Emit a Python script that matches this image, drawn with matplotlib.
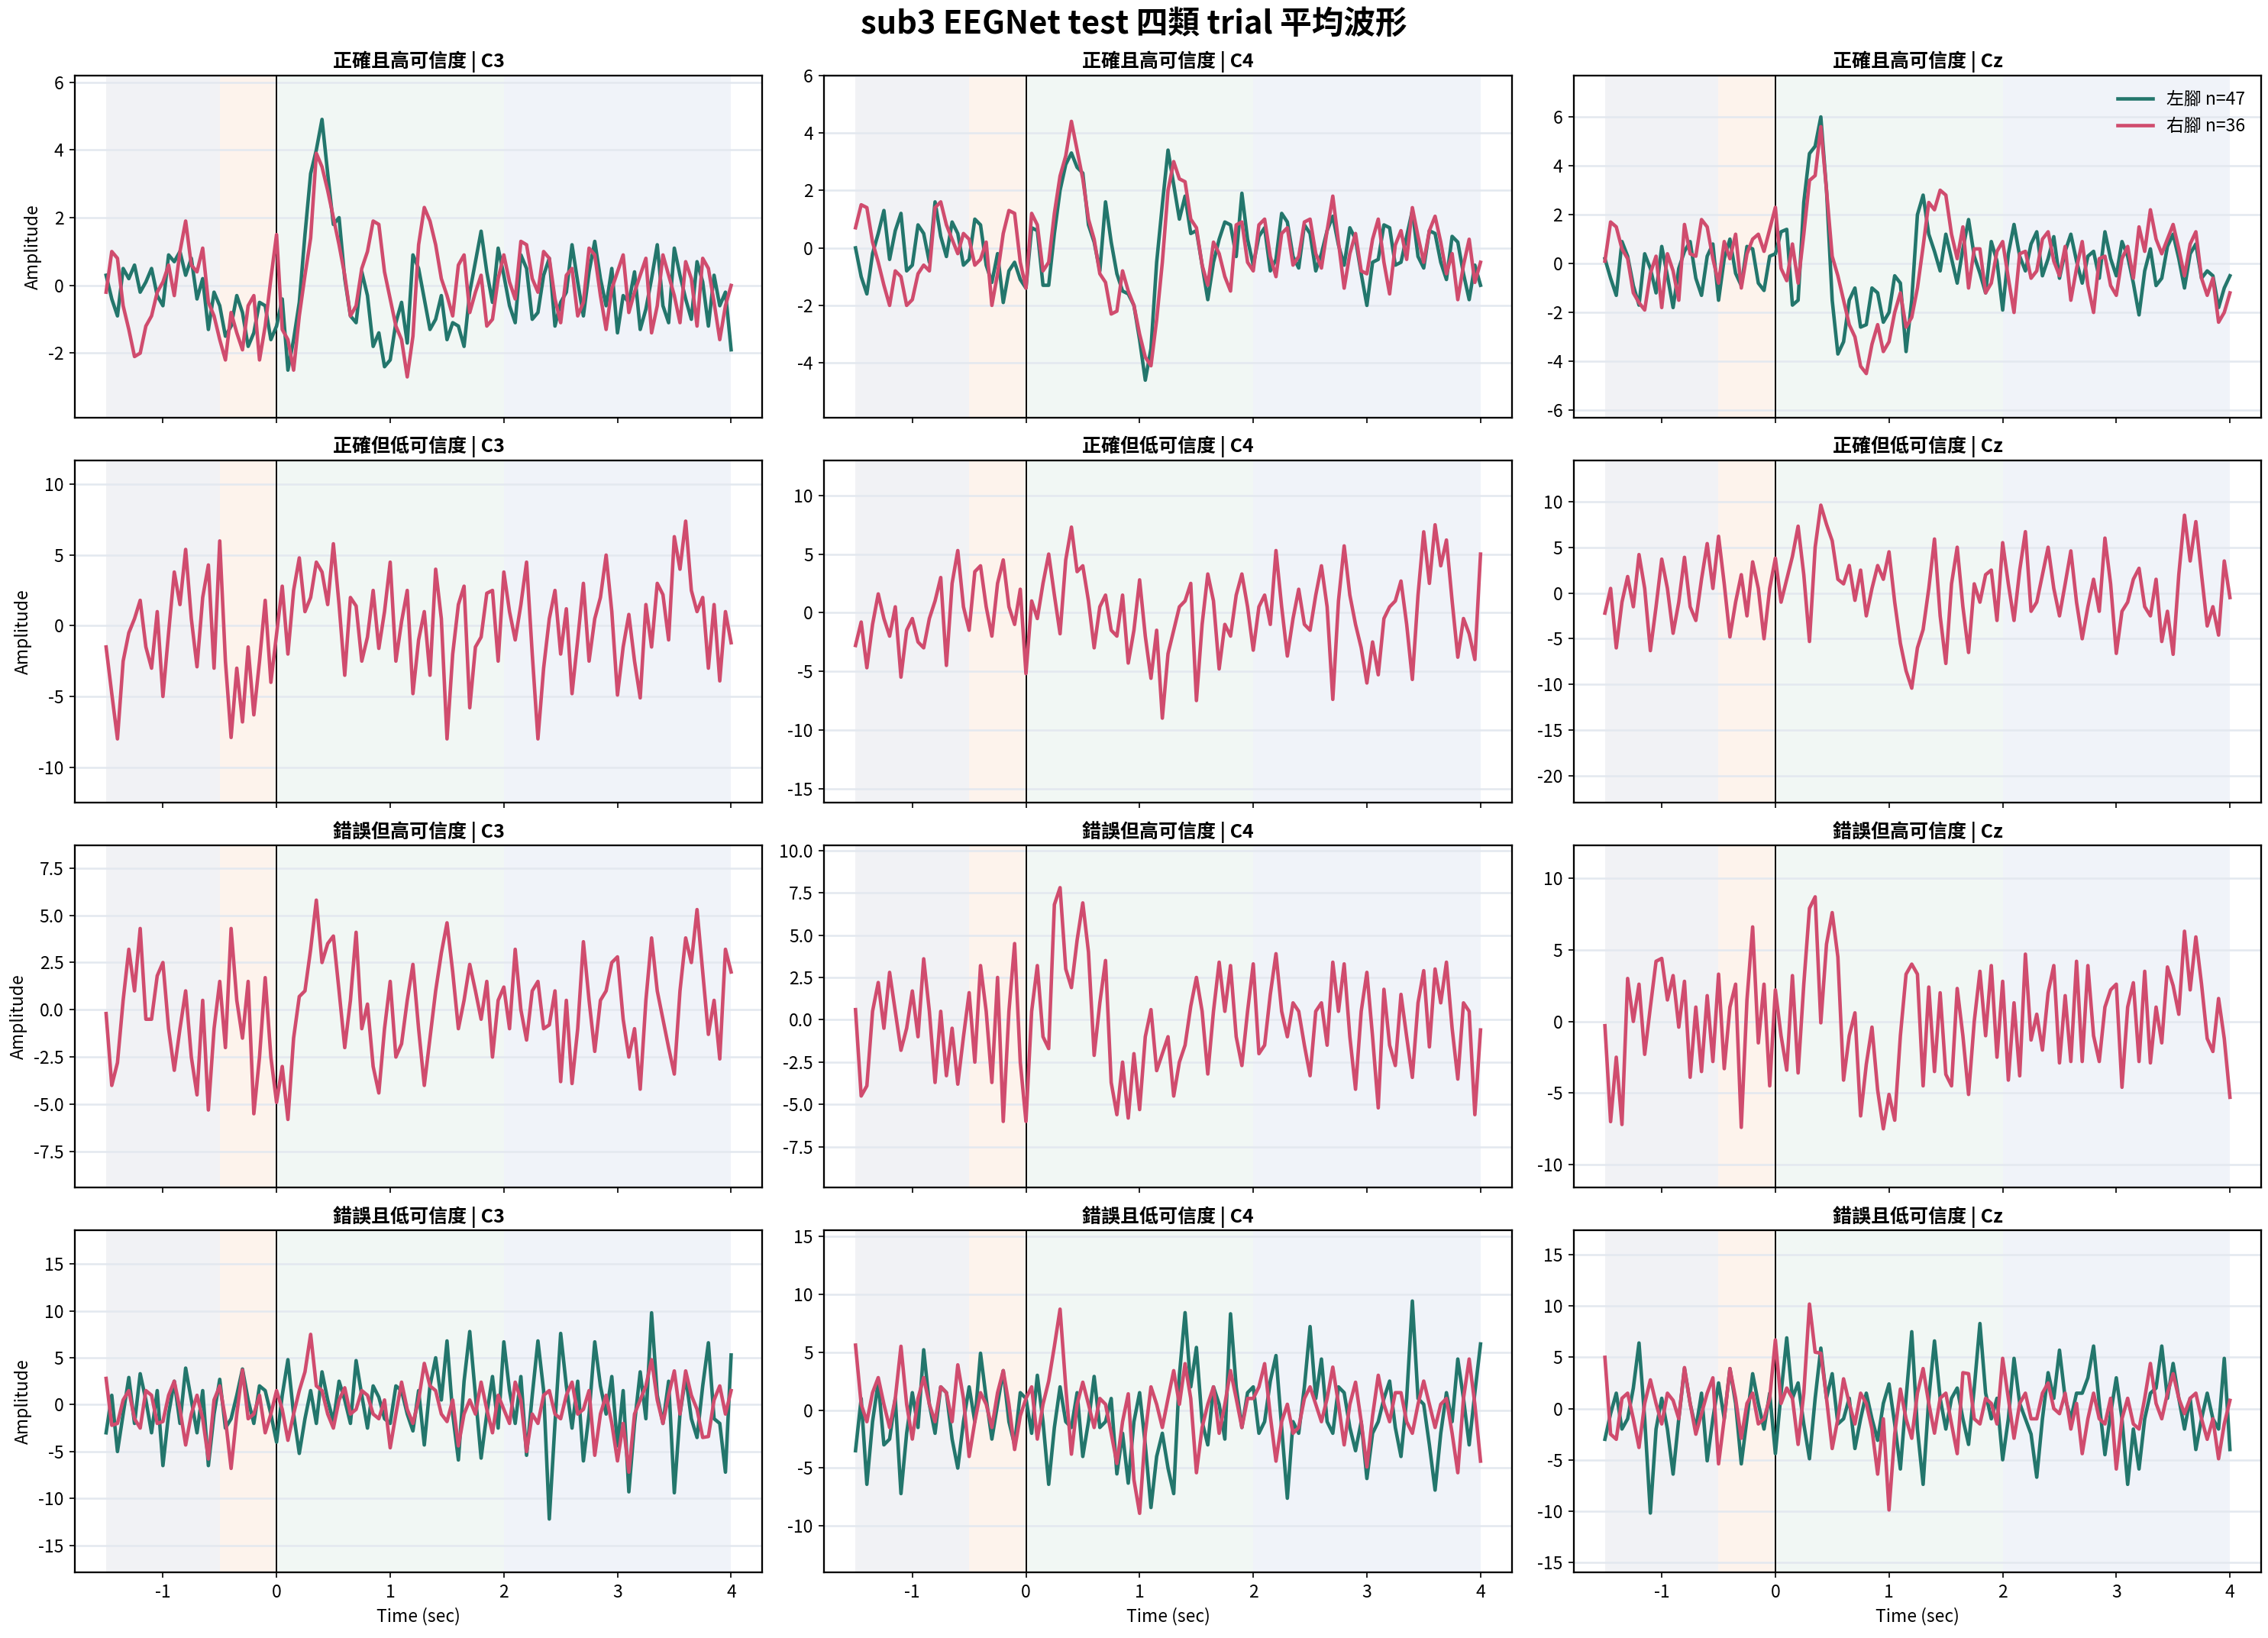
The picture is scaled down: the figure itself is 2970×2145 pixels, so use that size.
import numpy as np
import matplotlib
matplotlib.use("Agg")
import matplotlib.pyplot as plt

plt.rcParams['font.family'] = ['Noto Sans CJK TC', 'DejaVu Sans']
plt.rcParams['axes.unicode_minus'] = False

# every trace is sampled every 0.05 s from -1.5 to 4.0 s
t_start, t_end = -1.5, 4.0

row_titles = ["正確且高可信度", "正確但低可信度", "錯誤但高可信度", "錯誤且低可信度"]
channels = ["C3", "C4", "Cz"]
n_left, n_right = 47, 36

# ---- 正確且高可信度 ----
hc_c3_left = [0.3, -0.4, -0.9, 0.5, 0.2, 0.6, -0.2, 0.1, 0.5, -0.3,
              -0.6, 0.9, 0.7, 1.0, 0.3, 0.8, -0.4, 0.2, -1.3, -0.2,
              -0.6, -1.5, -1.2, -0.3, -0.8, -1.8, -1.4, -0.5, -0.6, -1.6,
              -1.2, -0.4, -2.5, -1.6, -0.5, 1.5, 3.3, 4.0, 4.9, 3.3,
              1.8, 2.0, 0.2, -0.9, -1.1, 0.4, -0.3, -1.8, -1.4, -2.4,
              -2.2, -1.1, -0.5, -1.7, 0.9, 0.5, -0.4, -1.3, -1.0, -0.3,
              -1.6, -1.1, -1.2, -1.8, -0.2, 0.7, 1.6, 0.4, -0.5, 1.1,
              0.3, -0.6, -1.1, 0.9, 0.5, -1.0, -0.8, 0.3, 0.8, -1.2,
              -0.5, -0.2, 1.2, 0.1, -0.9, 0.4, 1.3, 0.2, -0.6, 0.5,
              -1.4, -0.3, -0.5, 0.4, -1.3, -0.7, 0.2, 1.2, -0.6, -1.1,
              1.1, 0.3, -0.4, -1.0, 0.7, 0.1, -1.2, 0.3, -0.6, -0.2,
              -1.9]
hc_c3_right = [-0.2, 1.0, 0.8, -0.6, -1.3, -2.1, -2.0, -1.2, -0.9, -0.2,
               0.1, 0.6, -0.3, 1.0, 1.9, 0.6, 0.4, 1.1, -0.5, -0.9,
               -1.6, -2.2, -0.8, -1.4, -1.9, -0.6, -0.3, -2.2, -1.2, 0.2,
               1.5, -1.3, -1.6, -2.5, -0.9, 0.3, 1.4, 3.9, 3.5, 2.8,
               2.0, 1.2, 0.3, -0.9, -0.6, 0.5, 1.0, 1.9, 1.8, 0.4,
               -0.4, -1.2, -1.6, -2.7, -1.5, 1.2, 2.3, 1.9, 1.2, 0.2,
               -0.3, -0.9, 0.6, 0.9, -0.8, -0.2, 0.3, -1.2, -1.0, 0.2,
               0.9, 0.1, -0.4, 1.3, 1.2, 0.2, -0.2, 1.0, 0.8, -0.4,
               -1.1, 0.3, 0.5, -0.9, -0.5, 1.1, 0.9, -0.3, -1.3, -0.1,
               0.4, 0.9, -0.8, -0.2, 0.3, 0.8, -1.4, -0.6, 0.9, 0.3,
               -0.3, -1.1, 0.7, 0.2, -1.2, 0.8, 0.5, -0.5, -1.6, -0.6,
               0.0]
hc_c4_left = [0.0, -1.0, -1.6, -0.2, 0.5, 1.3, -0.4, 0.6, 1.2, -0.8,
              -0.6, 0.8, 0.5, -0.5, 1.6, 0.4, -0.3, 0.9, 0.5, -0.6,
              -0.4, 1.0, 0.8, -0.6, -1.2, -0.2, -1.9, -0.8, -0.5, -1.1,
              -1.4, 0.7, 0.6, -1.3, -1.3, 0.5, 2.0, 2.9, 3.3, 2.8,
              2.6, 0.8, 0.2, -0.8, 1.6, 0.2, -0.9, -1.5, -1.6, -2.0,
              -3.2, -4.6, -3.5, -0.5, 1.5, 3.4, 2.2, 1.0, 1.8, 0.5,
              0.6, -0.6, -1.8, -0.5, 0.3, 0.9, 0.8, -0.3, 1.9, 0.3,
              -0.6, 0.4, 0.7, -0.8, -0.4, 1.2, 0.9, -0.3, -0.7, 0.8,
              0.5, -0.8, -0.2, 0.6, 1.1, 0.1, -0.6, 0.7, 0.3, -0.9,
              -2.0, -0.5, -0.4, 0.8, 0.7, -0.6, -0.5, 0.4, 1.3, -0.3,
              -0.7, 0.6, 0.5, -0.5, -1.1, 0.4, 0.2, -0.9, -1.8, -0.6,
              -1.3]
hc_c4_right = [0.7, 1.5, 1.4, 0.2, -0.5, -1.3, -2.0, -0.8, -1.0, -2.0,
               -1.8, -0.9, -0.6, -0.8, 1.4, 1.6, 0.8, 0.3, -0.2, 0.5,
               0.3, -0.6, -0.4, 0.2, -2.0, -0.9, 0.5, 1.3, 1.2, -0.5,
               -1.4, 1.2, 0.8, -0.8, -0.5, 1.2, 2.5, 3.2, 4.4, 3.4,
               2.4, 1.0, 0.3, -0.9, -1.2, -2.3, -2.2, -0.8, -1.5, -2.0,
               -3.0, -3.8, -4.1, -2.5, -0.5, 2.0, 3.0, 2.4, 2.3, 1.0,
               0.7, -0.6, -1.3, 0.2, -0.2, -1.0, -1.5, 0.8, 0.9, -0.5,
               -0.8, 0.8, 1.0, -0.3, -1.0, 0.5, 0.7, -0.6, -0.3, 0.9,
               1.0, -0.2, -0.7, 0.6, 1.8, 0.2, -1.4, -0.2, 0.5, -0.8,
               -0.9, 0.3, 1.0, -0.5, -1.6, 0.1, 0.6, -0.4, 1.4, 0.4,
               -0.5, 0.6, 1.1, 0.2, -0.9, -0.2, -1.8, -0.6, 0.3, -1.2,
               -0.5]
hc_cz_left = [0.2, -0.6, -1.3, 0.9, 0.3, -0.9, -1.7, 0.4, -0.2, -1.2,
              0.7, -0.5, -1.8, -0.2, 0.5, 0.9, -0.6, -1.3, 0.3, 0.8,
              -1.5, 0.2, 1.0, -0.4, -0.9, 0.7, 0.6, -0.8, -1.1, 0.3,
              0.4, 1.3, 1.4, -1.7, -1.5, 2.5, 4.5, 4.8, 6.0, 3.0,
              -1.5, -3.7, -3.2, -1.5, -1.0, -2.6, -2.5, -1.0, -1.2, -2.4,
              -2.0, -0.5, -0.8, -3.6, -1.5, 2.0, 2.8, 1.2, 0.5, -0.3,
              1.2, 0.2, -0.8, 0.6, 1.8, 0.3, -0.4, -1.2, 0.9, 0.1,
              -1.9, 0.4, 1.6, 0.3, -0.3, 0.8, 1.3, -0.5, 0.2, 1.1,
              -0.6, 0.5, 1.2, 0.1, -0.8, 0.3, 0.5, -0.6, 1.3, 0.2,
              -0.5, 0.9, 0.3, -0.8, -2.1, -0.3, 0.6, -0.9, -0.6, 0.7,
              1.2, 0.2, -1.0, 0.4, 0.8, -0.6, -0.3, -0.5, -1.8, -1.0,
              -0.5]
hc_cz_right = [0.1, 1.7, 1.5, 0.6, 0.2, -1.2, -1.6, -1.9, -0.4, 0.3,
               -1.8, 0.4, -0.3, -1.5, 1.6, 0.4, 0.3, 1.8, 1.5, 0.2,
               -0.8, 0.9, 0.2, 1.2, -1.0, 0.4, 1.0, 1.2, 0.5, 1.4,
               2.3, -0.2, -0.7, 0.8, -0.8, 1.2, 3.4, 3.6, 5.6, 3.0,
               0.3, -0.5, -1.5, -2.5, -3.0, -4.2, -4.5, -3.3, -2.5, -3.6,
               -3.2, -2.0, -1.2, -2.6, -2.2, -1.0, 0.7, 2.5, 2.2, 3.0,
               2.8, 1.2, 0.2, 1.5, -1.0, 0.6, 0.6, -1.2, -0.8, 0.5,
               0.9, -0.6, -2.0, 0.4, 0.5, -0.6, -0.3, 1.0, 1.3, 0.1,
               -0.5, 0.7, -1.5, -0.2, 0.9, -0.9, -2.0, 0.2, 0.3, -0.9,
               -1.3, 0.2, 0.7, -0.6, 1.5, 0.5, 2.2, 1.0, 0.4, 1.0,
               1.6, 0.6, -0.5, 0.8, 1.3, -0.6, -1.3, -0.6, -2.4, -2.0,
               -1.2]

# ---- 正確但低可信度 (only 右腳 trace) ----
hl_c3_right = [-1.5, -4.8, -8.0, -2.5, -0.5, 0.5, 1.8, -1.5, -3.0, 1.0,
               -5.0, -0.5, 3.8, 1.5, 5.4, 0.5, -2.9, 2.0, 4.3, -3.0,
               6.0, -2.5, -7.9, -3.0, -6.8, -1.5, -6.3, -2.5, 1.8, -4.0,
               -0.6, 2.8, -2.0, 2.5, 4.8, 1.0, 2.0, 4.5, 3.8, 1.5,
               5.8, 1.5, -3.5, 2.0, 1.4, -2.5, -0.8, 2.5, -1.6, 1.0,
               4.5, -2.5, 0.3, 2.5, -4.8, -1.0, 1.0, -3.5, 4.0, 0.5,
               -8.0, -2.0, 1.5, 2.8, -5.8, -1.5, -0.8, 2.3, 2.5, -2.5,
               3.8, 1.0, -1.0, 1.5, 4.5, -2.0, -8.0, -3.0, 0.5, 2.5,
               -2.0, 1.2, -4.8, -1.0, 3.0, -2.5, 0.5, 2.0, 5.0, 1.0,
               -4.9, -1.5, 0.8, -2.5, -5.1, 1.5, -1.5, 3.0, 2.2, -1.0,
               6.3, 4.0, 7.4, 2.5, 1.0, 2.0, -3.0, 1.5, -3.9, 1.0,
               -1.2]
hl_c4_right = [-2.8, -0.8, -4.7, -1.0, 1.6, -0.5, -2.0, 0.5, -5.5, -1.5,
               -0.5, -2.5, -3.0, -0.5, 1.0, 3.0, -4.5, 2.5, 5.3, 0.5,
               -1.5, 3.5, 4.0, 0.5, -2.0, 2.5, 4.5, 0.5, -1.0, 2.0,
               -5.2, 1.0, -0.5, 2.5, 5.0, 1.5, -1.8, 4.5, 7.3, 3.5,
               4.0, 1.0, -3.0, 0.5, 1.5, -1.5, -2.0, 1.5, -4.3, -1.5,
               2.8, -2.0, -5.6, -1.5, -9.0, -3.5, -1.5, 0.5, 1.0, 2.5,
               -7.5, -1.0, 3.3, 1.0, -4.8, -1.0, -2.0, 1.5, 3.3, 0.5,
               -3.2, 0.5, 1.5, -1.0, 5.3, 0.5, -3.7, -0.5, 2.0, -1.0,
               -1.5, 1.5, 4.0, 0.5, -7.4, 1.0, 5.7, 1.5, -1.0, -3.0,
               -6.0, -2.5, -5.3, -0.5, 0.5, 1.0, 2.7, -1.0, -5.7, 1.5,
               6.9, 2.5, 7.5, 4.0, 6.2, 1.0, -3.8, -0.5, -1.8, -4.0,
               5.0]
hl_cz_right = [-2.2, 0.5, -6.0, -1.0, 1.8, -1.5, 4.2, 0.5, -6.3, -1.5,
               3.7, 0.5, -4.4, -1.0, 3.9, -1.5, -3.0, 1.5, 5.4, 0.5,
               6.2, 1.0, -4.8, -1.0, 2.0, -2.5, 3.4, 0.5, -5.0, 0.5,
               3.8, -1.0, 1.5, 4.0, 7.3, 2.0, -5.3, 5.0, 9.6, 7.5,
               5.7, 1.5, 1.0, 3.0, -0.8, 2.5, -2.5, 0.5, 3.0, 1.5,
               4.5, -1.0, -5.5, -8.5, -10.4, -6.0, -4.0, 0.5, 5.9, -2.5,
               -7.7, 1.0, 5.0, -1.5, -6.5, 1.0, -1.0, 2.0, 2.5, -3.0,
               5.5, 1.0, -3.0, 2.5, 6.7, -2.0, -1.0, 2.0, 5.0, 0.5,
               -2.5, 1.0, 4.6, -1.0, -5.0, -1.5, 1.5, -2.0, 6.0, 1.0,
               -6.6, -2.0, -1.0, 1.5, 2.7, -1.5, -2.5, 1.5, -5.3, -2.0,
               -6.7, 2.0, 8.5, 3.5, 7.8, 2.0, -3.6, -1.5, -4.6, 3.5,
               -0.5]

# ---- 錯誤但高可信度 (only 右腳 trace) ----
wh_c3_right = [-0.2, -4.0, -2.8, 0.5, 3.2, 1.0, 4.3, -0.5, -0.5, 1.8,
               2.5, -1.0, -3.2, -1.0, 1.0, -2.5, -4.5, 0.5, -5.3, -1.0,
               1.5, -2.0, 4.3, 0.5, -1.5, 1.5, -5.5, -2.5, 1.7, -2.5,
               -4.9, -3.0, -5.8, -1.5, 0.7, 1.0, 3.2, 5.8, 2.5, 3.5,
               3.9, 1.0, -2.0, 0.5, 4.1, -1.0, 0.3, -3.0, -4.4, -1.0,
               1.5, -2.5, -1.8, 0.5, 2.4, -1.0, -4.0, -1.5, 1.0, 3.0,
               4.6, 2.0, -1.0, 0.5, 2.4, 1.0, -0.5, 1.5, -2.5, 0.5,
               1.2, -1.0, 3.2, 0.0, -1.6, 1.0, 1.5, -1.0, -0.8, 1.0,
               -3.8, 0.5, -3.9, -1.0, 3.6, 0.5, -2.2, 0.5, 1.0, 2.5,
               2.8, -0.5, -2.5, -1.0, -4.2, 0.5, 3.8, 1.0, -0.5, -2.0,
               -3.4, 1.0, 3.8, 2.5, 5.3, 2.0, -1.3, 0.5, -2.6, 3.2,
               2.0]
wh_c4_right = [0.6, -4.5, -3.9, 0.5, 2.2, -0.5, 2.8, 0.5, -1.8, -0.5,
               1.7, -1.0, 3.6, 0.5, -3.7, 0.5, -3.3, -0.5, -3.8, -1.0,
               1.6, -2.5, 3.2, 0.5, -3.7, 2.5, -6.0, 0.5, 4.5, -2.5,
               -6.0, 0.5, 3.2, -1.0, -1.7, 6.8, 7.8, 3.0, 1.9, 4.7,
               6.9, 4.0, -2.1, 1.0, 3.5, -3.7, -5.6, -2.5, -5.8, -2.0,
               -5.3, -1.0, 0.6, -3.0, -2.0, -1.0, -4.5, -2.5, -1.5, 0.8,
               2.5, 0.5, -3.2, 0.5, 3.4, 0.5, 3.2, -1.0, -2.7, 0.5,
               3.3, -2.0, -1.5, 1.5, 3.9, 0.5, -1.0, 1.0, 0.5, -1.5,
               -3.3, 0.5, 1.0, -1.5, 3.4, 0.5, 3.3, -1.0, -4.1, 0.5,
               2.8, -1.0, -5.2, 1.8, -1.5, -2.7, 1.5, -1.0, -3.4, 1.0,
               2.9, -1.6, 3.0, 1.0, 3.4, -0.5, -3.5, 1.0, 0.5, -5.6,
               -0.6]
wh_cz_right = [-0.3, -7.0, -2.5, -7.2, 3.0, 0.0, 2.6, -2.3, 1.0, 4.2,
               4.4, 1.5, 3.2, -0.4, 2.8, -3.9, 1.0, -3.5, 1.8, -2.8,
               3.3, -3.3, 1.0, 2.6, -7.4, 1.5, 6.6, -1.5, 2.6, -4.5,
               2.2, -1.0, -3.4, 3.2, -3.6, 2.6, 7.9, 8.7, -0.1, 5.4,
               7.6, 4.5, -4.1, -1.0, 0.6, -6.6, -3.0, -0.4, -4.8, -7.5,
               -5.1, -6.9, -1.0, 3.3, 4.0, 3.3, -4.5, 2.4, -3.5, 2.0,
               -3.7, -4.5, 2.3, -1.0, -5.1, 0.0, 3.5, -1.0, 3.9, -2.5,
               2.8, -4.1, 1.3, -3.8, 4.7, -1.3, 0.5, -2.0, 2.0, 3.9,
               -2.9, 1.8, -2.8, 4.2, -2.8, 3.9, -1.0, -2.8, 1.0, 2.2,
               2.6, -4.6, 1.0, 2.7, -2.8, 3.5, -2.9, 1.0, -1.5, 3.8,
               2.5, 0.5, 6.3, 2.2, 5.9, 2.6, -1.2, -2.1, 1.6, -1.2,
               -5.3]

# ---- 錯誤且低可信度 ----
wl_c3_left = [-3.0, 1.0, -5.0, -1.0, 2.9, -2.0, 3.3, 0.5, -3.0, 1.5,
              -6.5, -1.0, 2.5, -2.0, 3.9, 0.5, -3.0, 1.5, -6.5, -1.0,
              2.7, -2.5, -1.5, 1.0, 3.8, 0.5, -2.0, 2.0, 1.5, -1.0,
              -4.0, 1.0, 4.8, -1.0, -5.2, -1.5, 1.5, -2.0, 3.5, 0.5,
              -1.8, 2.5, 0.5, -2.0, 4.7, 1.0, -2.5, 2.0, 0.8, -1.5,
              -2.0, 2.0, 1.5, -1.0, -2.8, 1.5, -4.3, 2.0, 5.0, 0.5,
              6.8, -1.0, -5.9, 2.5, 7.8, 1.0, -5.7, -1.0, 3.0, -2.5,
              6.7, 1.5, -2.0, 3.0, -5.4, 1.0, 6.8, 1.5, -12.2, -2.0,
              7.6, 2.0, -2.5, 2.5, -6.0, -1.0, 6.7, 2.0, -1.0, 3.0,
              -4.4, 1.5, -9.3, -2.0, 3.5, -1.5, 9.8, 1.0, -2.0, 2.5,
              -9.4, -1.0, 3.0, -1.5, -3.5, 2.0, 6.6, -1.5, -2.0, -7.2,
              5.3]
wl_c3_right = [2.8, -2.2, -2.0, 0.5, 1.5, -1.5, -2.5, 1.5, 1.0, -2.0,
               -1.8, 1.0, 2.5, -0.5, -4.3, -1.0, 1.0, -1.5, -5.8, 0.5,
               2.0, -1.5, -6.8, -1.0, 3.7, -1.5, -1.0, 1.0, -3.0, -1.0,
               1.5, -0.5, -3.8, -1.0, 1.5, 3.5, 7.5, 2.0, 1.5, -1.0,
               -2.5, 0.5, 1.8, -1.0, -0.5, 1.5, 1.0, -1.0, -1.5, 0.5,
               -4.6, -1.0, 2.4, -0.5, -2.0, 0.5, 4.4, 2.0, 1.5, -1.0,
               -1.8, 0.5, -4.4, -1.0, 0.5, -1.0, 2.4, -0.5, -3.0, 1.0,
               -0.5, -2.0, 2.4, 0.5, -5.0, -1.0, -2.0, 1.0, 1.5, -1.0,
               -1.5, 1.0, 2.4, -1.0, -0.5, 1.5, -5.4, -1.0, 1.0, -2.0,
               -6.0, -2.0, -7.2, -1.0, 0.5, 2.0, 4.8, 0.5, -2.0, 1.0,
               3.6, -1.0, 3.6, 1.0, -0.5, -3.5, -3.4, 0.5, 2.0, -1.0,
               1.5]
wl_c4_left = [-3.5, 1.0, -6.4, -1.0, 2.4, -3.0, -2.5, 1.0, -7.2, -2.0,
              1.5, -1.5, 5.2, 0.5, -2.0, 2.0, 1.5, -2.5, -5.0, -1.0,
              2.0, -1.0, 4.9, 1.0, -2.5, 0.5, 3.4, -1.0, -3.0, 1.5,
              1.0, -2.0, 3.0, -1.0, -6.4, -1.5, 2.0, -1.0, -1.5, 1.5,
              -4.0, -1.0, 2.9, -1.5, -1.0, 1.0, -5.5, -2.0, -6.3, -1.0,
              1.5, -3.0, -8.4, -4.0, -2.0, -5.0, -7.2, 3.0, 8.4, 2.0,
              5.4, -1.0, -3.0, 2.0, 0.5, -2.5, 8.3, 2.0, -1.5, 1.5,
              2.0, -2.0, -1.0, 2.5, 4.7, -1.5, -7.6, -1.0, -2.0, 2.0,
              7.2, 1.0, 4.4, -1.0, -2.0, 2.0, 1.5, -1.5, -3.5, -1.0,
              -5.9, -2.0, -1.0, 1.0, 2.5, -1.5, -4.0, 1.0, 9.4, 1.0,
              0.5, -3.0, -6.9, -2.0, 1.5, -1.0, 4.4, 1.0, -3.0, 1.5,
              5.7]
wl_c4_right = [5.6, 0.5, -1.0, 1.5, 2.8, 0.5, -1.5, 1.0, 5.5, 0.5,
               -2.5, 1.0, 2.8, 0.5, -1.0, 2.0, 1.5, -1.0, 3.9, 1.0,
               -4.0, -1.0, 1.5, 0.5, -1.5, 1.5, 3.4, 0.5, -3.4, -0.5,
               1.0, 2.0, -2.5, 0.5, 2.5, 5.5, 8.7, 2.0, -3.8, 0.5,
               2.4, 0.5, -1.5, 1.0, 0.5, -2.0, -4.6, -1.0, 1.4, -6.0,
               -8.9, -2.0, 2.0, 0.5, -1.5, 1.0, 3.4, 0.5, 4.0, 1.0,
               -5.4, -1.5, 0.5, 2.0, -2.0, 0.5, 3.4, 1.0, -1.5, 1.0,
               1.0, 2.0, 4.0, -0.5, -4.4, -1.0, 0.5, -2.0, -1.5, 1.0,
               2.0, 0.5, -1.0, 1.0, 3.7, 0.5, -3.0, 0.5, 2.4, -1.0,
               -4.9, -0.5, 3.0, 0.5, -1.0, 1.5, 1.5, -1.0, -2.0, 0.5,
               2.5, 0.5, -1.5, 0.5, 1.0, -2.0, -5.4, 1.0, 4.4, 0.5,
               -4.4]
wl_cz_left = [-3.0, -0.5, 1.5, -2.0, -1.0, 2.0, 6.4, -1.0, -10.2, -2.0,
              1.0, -2.0, -6.4, -1.0, 3.9, 0.5, -2.0, 1.5, -5.1, -1.0,
              2.5, -1.0, 3.9, 0.5, -5.4, -1.0, 3.4, 0.5, -2.0, 1.5,
              -4.4, 1.5, 6.9, 1.0, 2.5, -1.5, -4.9, 1.0, 5.9, 1.0,
              3.4, -1.5, -1.0, 1.0, -3.9, -1.0, 1.5, -1.0, -3.1, 0.5,
              2.4, -1.5, -5.9, 1.0, 7.5, -2.0, -7.4, 1.0, 6.6, 1.0,
              -2.0, 1.0, 2.0, -1.0, -3.5, 2.0, 8.3, 1.5, -1.0, 1.0,
              -5.0, -1.0, 4.9, 0.5, -1.0, -2.5, -6.7, -1.0, 3.5, 1.0,
              5.7, 1.0, -1.0, 1.5, 1.5, 3.0, 6.1, 0.5, -4.5, -0.5,
              3.0, -1.0, -7.4, -2.0, -5.9, -1.0, 1.5, 2.0, 6.1, 1.0,
              4.4, 1.0, -2.0, 1.0, -4.0, -1.0, 1.5, -1.0, -2.0, 4.9,
              -4.0]
wl_cz_right = [5.0, -2.5, -3.0, 1.0, 1.5, -1.0, -3.8, 0.5, 2.8, 0.5,
               -1.5, 1.5, 0.8, -1.0, 4.0, 0.5, -2.5, -0.5, 1.5, 3.0,
               -5.4, -1.0, 3.9, 1.0, -2.9, 0.5, 1.5, -1.5, -1.0, 1.0,
               6.7, 0.5, 2.0, 1.0, -3.5, 1.5, 10.2, 5.5, 5.4, 1.0,
               -3.9, -1.0, 2.9, 0.5, -1.5, 1.5, 0.5, -2.0, -6.4, -1.0,
               -9.9, -2.5, 1.9, -1.0, -2.9, 1.5, 3.9, 0.5, -2.4, 1.0,
               1.5, -1.5, -4.4, 3.5, 3.4, -1.0, -1.5, 1.0, 0.5, -1.5,
               4.9, 1.0, -2.9, 0.5, 1.5, -1.0, -1.0, 1.5, 2.5, 0.0,
               -0.5, 1.5, -2.0, 0.5, -4.4, -1.0, 1.5, -1.0, -1.5, 1.0,
               -5.9, -1.0, 1.0, -1.5, -2.0, 1.0, 4.4, 0.5, -1.0, 1.5,
               3.4, 1.0, -0.5, 1.0, 1.5, -1.0, -3.0, -1.0, -4.9, -1.5,
               0.8]

left_data = [[hc_c3_left, hc_c4_left, hc_cz_left],
             [None, None, None],
             [None, None, None],
             [wl_c3_left, wl_c4_left, wl_cz_left]]
right_data = [[hc_c3_right, hc_c4_right, hc_cz_right],
              [hl_c3_right, hl_c4_right, hl_cz_right],
              [wh_c3_right, wh_c4_right, wh_cz_right],
              [wl_c3_right, wl_c4_right, wl_cz_right]]

ylims = [[(-3.9, 6.2), (-5.9, 6.0), (-6.3, 7.7)],
         [(-12.5, 11.7), (-16.2, 13.0), (-22.9, 14.5)],
         [(-9.4, 8.7), (-9.9, 10.3), (-11.6, 12.3)],
         [(-17.9, 18.6), (-14.0, 15.5), (-16.0, 17.4)]]

# epoch phases shaded in the background
phases = [(-1.5, -0.5, '#f1f2f5'), (-0.5, 0.0, '#fdf3ec'), (0.0, 2.0, '#f1f7f4'), (2.0, 4.0, '#f0f3f9')]

c_left = '#23766c'
c_right = '#d04c6e'

fig, axes = plt.subplots(4, 3, figsize=(19.8, 14.3), dpi=150, sharex=True)
fig.subplots_adjust(left=0.033, right=0.997, top=0.954, bottom=0.04, wspace=0.09, hspace=0.125)

for r in range(4):
    for c in range(3):
        ax = axes[r, c]
        for a, b, col in phases:
            ax.axvspan(a, b, color=col, lw=0, zorder=0)
        ax.axvline(0, color='black', lw=0.9, zorder=1)
        ax.grid(axis='y', color='#e3e8ef', lw=1.2, zorder=0.5)
        ax.set_axisbelow(True)
        lv = left_data[r][c]
        if lv is not None:
            ax.plot(np.linspace(t_start, t_end, len(lv)), lv, color=c_left, lw=2.2,
                    label=f'左腳 n={n_left}', zorder=2)
        rv = right_data[r][c]
        ax.plot(np.linspace(t_start, t_end, len(rv)), rv, color=c_right, lw=2.2,
                label=f'右腳 n={n_right}', zorder=3)
        ax.set_ylim(*ylims[r][c])
        ax.set_title(f'{row_titles[r]} | {channels[c]}', fontsize=12, fontweight='bold', pad=5)
        ax.tick_params(labelsize=11)
        for s in ax.spines.values():
            s.set_linewidth(1.1)
        if c == 0:
            ax.set_ylabel('Amplitude', fontsize=11)
        if r == 3:
            ax.set_xlabel('Time (sec)', fontsize=11)

axes[0, 0].set_xticks([-1, 0, 1, 2, 3, 4])
axes[0, 2].legend(loc='upper right', frameon=False, fontsize=11)

fig.suptitle('sub3 EEGNet test 四類 trial 平均波形', fontsize=20, fontweight='bold', y=0.995)

fig.savefig('out.png', dpi=150)
